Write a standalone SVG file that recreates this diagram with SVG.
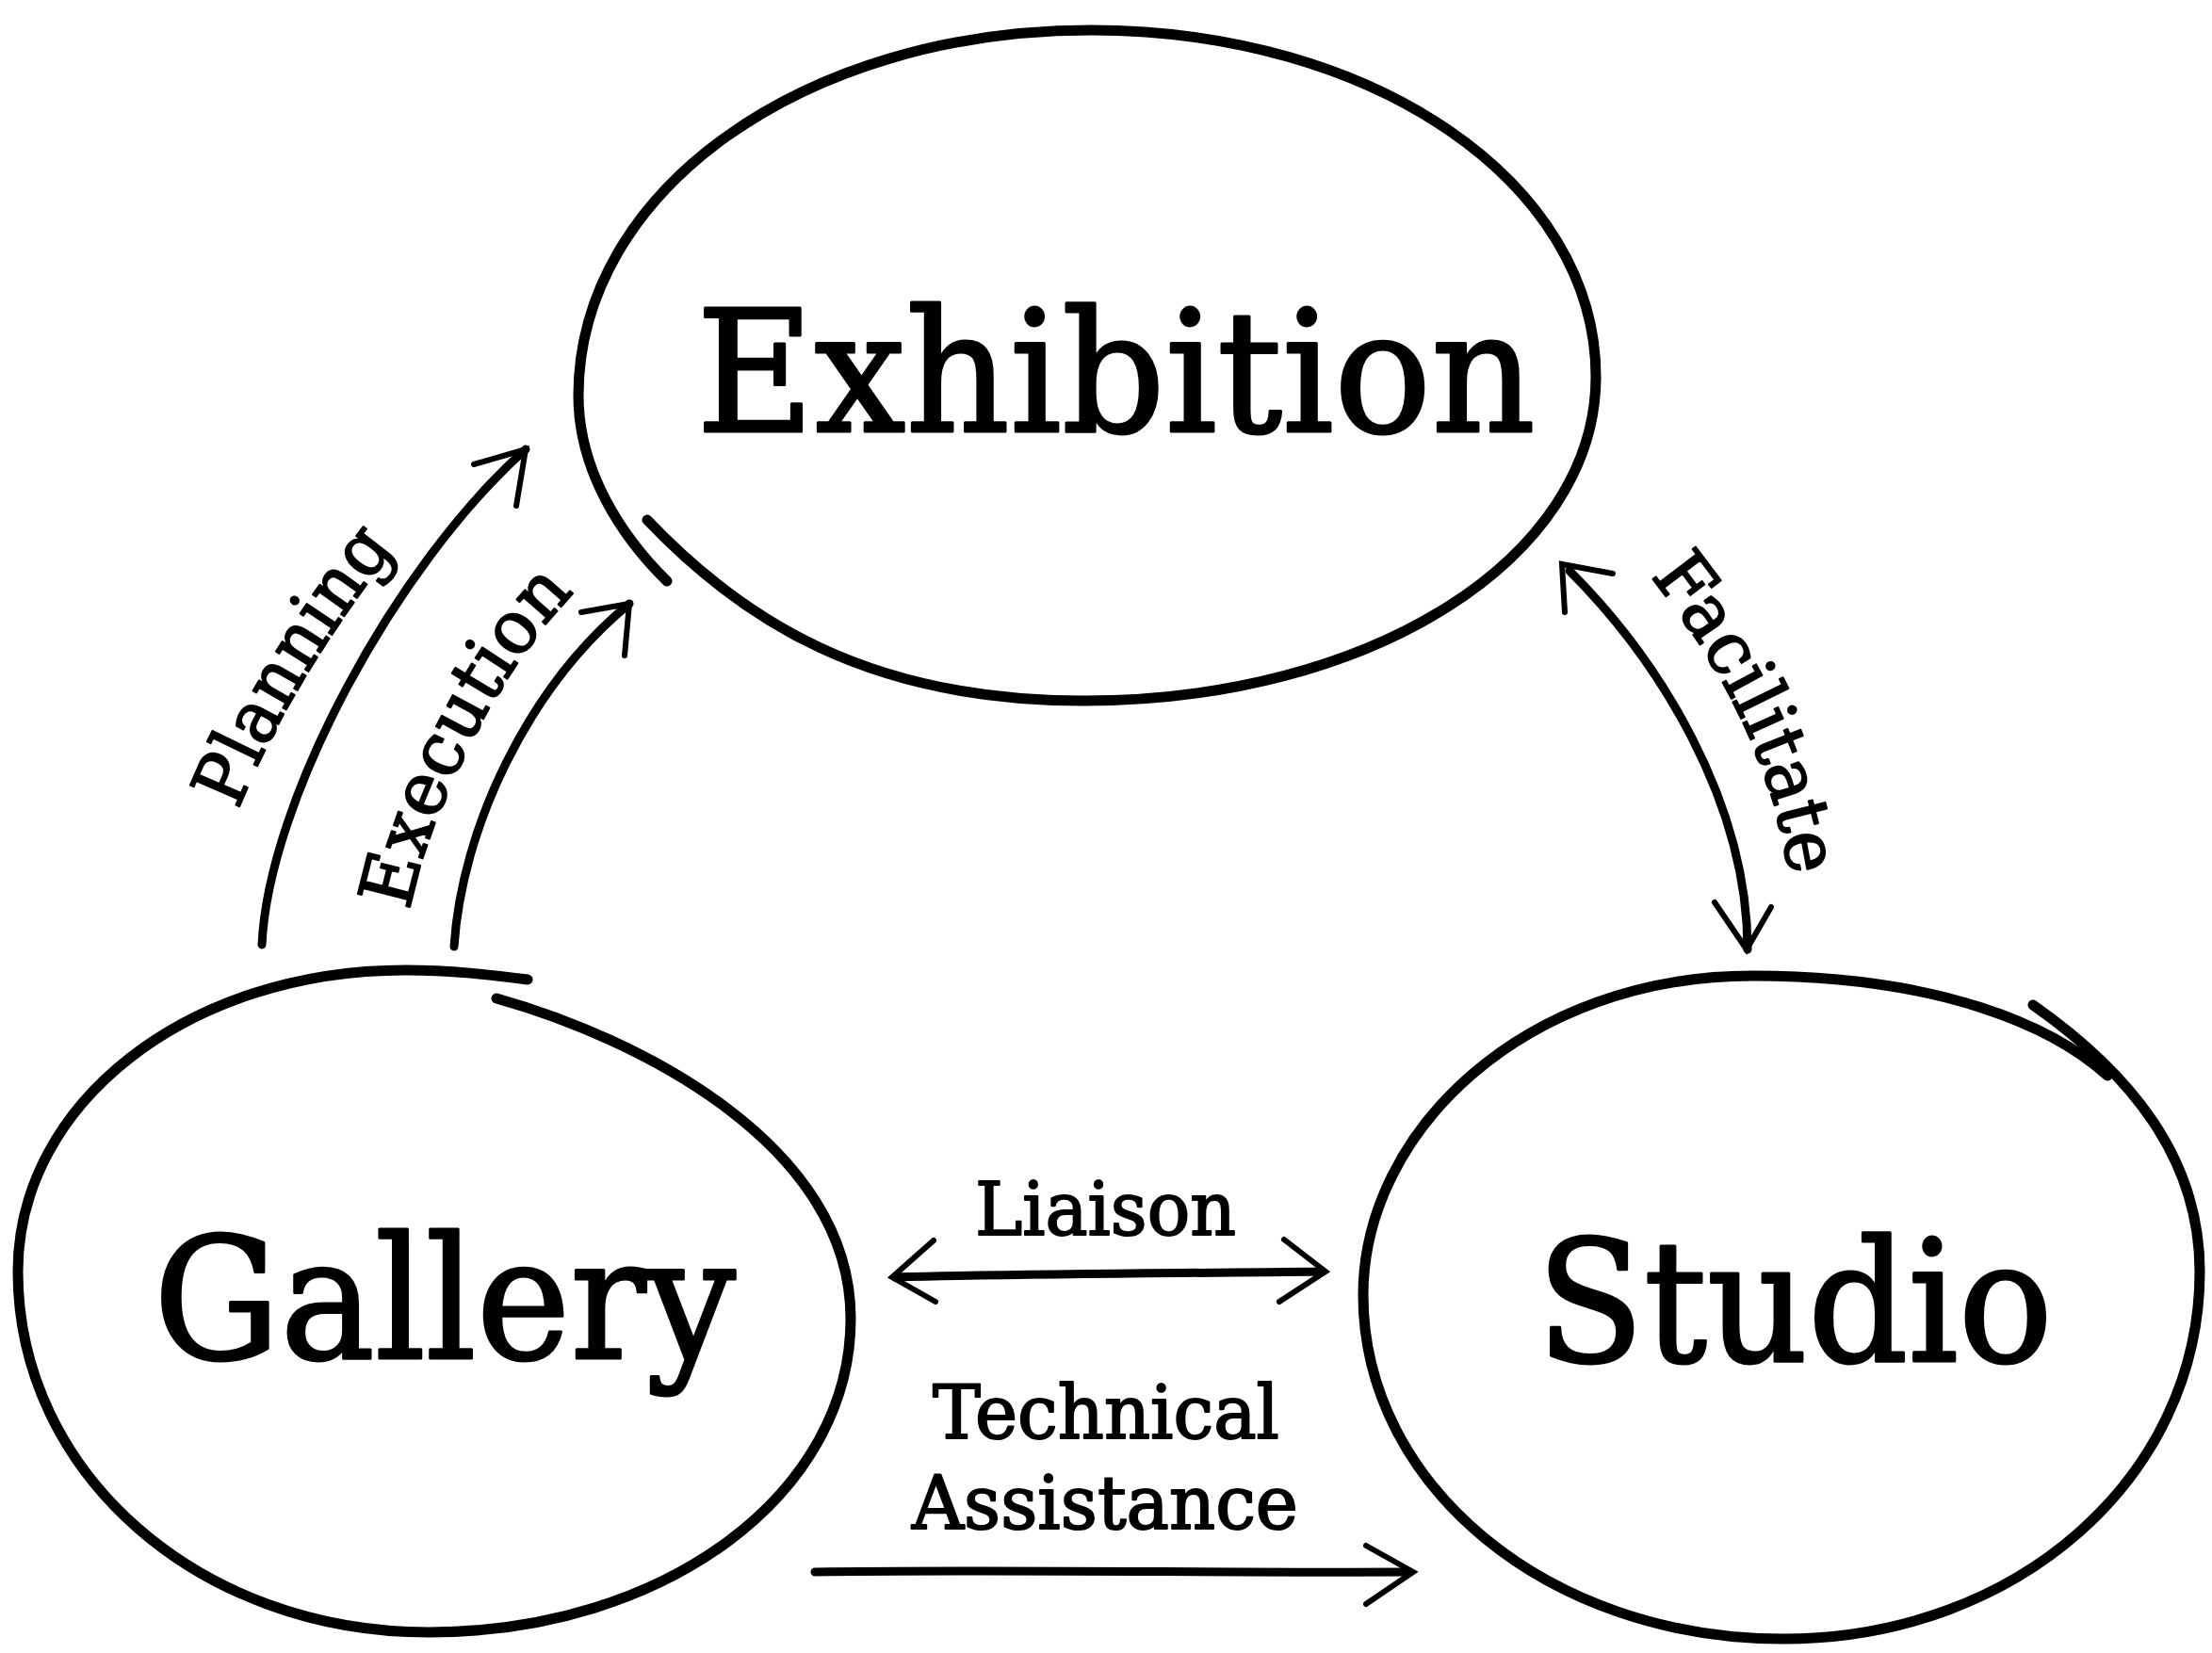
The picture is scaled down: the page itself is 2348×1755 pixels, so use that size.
<svg xmlns="http://www.w3.org/2000/svg" width="2348" height="1755" viewBox="0 0 2348 1755">
<defs>
<style>
.node{fill:none;stroke:#000;stroke-width:11;stroke-linecap:round;stroke-linejoin:round}
.arrow{fill:none;stroke:#000;stroke-width:9;stroke-linecap:round;stroke-linejoin:round}
.head{fill:none;stroke:#000;stroke-width:6;stroke-linecap:round;stroke-linejoin:miter}
.big{font-family:"DejaVu Serif","Liberation Serif",serif;font-size:180px;fill:#000;stroke:#000;stroke-width:3;stroke-linejoin:round}
.lbl{font-family:"DejaVu Serif","Liberation Serif",serif;font-size:78px;fill:#000;stroke:#000;stroke-width:2;stroke-linejoin:round}
</style>
<path id="pPlanning" d="M253,860 C280,790 340,680 421,580"/>
<path id="pExecution" d="M435,967 C450,880 520,720 610,629"/>
<path id="pFacilitate" d="M1752,612 C1810,686 1880,790 1900,935"/>
</defs>
<rect width="2348" height="1755" fill="#fff"/>

<g id="node-exhibition">
<path class="node" d="M687,552 C787,657 920,744 1150,744 C1455,744 1694,593 1694,400 C1694,194 1458,32 1158,32 C853,32 614,203 614,420 C614,500 660,570 708,617"/>
<text class="big" x="739" y="458" textLength="891" lengthAdjust="spacingAndGlyphs">Exhibition</text>
</g>

<g id="node-gallery">
<path class="node" d="M527,1060 C677,1102 903,1215 903,1400 C903,1586 706,1733 455,1733 C211,1733 19,1564 19,1350 C19,1171 200,1030 430,1030 C480,1030 520,1035 560,1040"/>
<text class="big" x="163" y="1442" textLength="618" lengthAdjust="spacingAndGlyphs">Gallery</text>
</g>

<g id="node-studio">
<path class="node" d="M2158,1067 C2262,1140 2335,1230 2335,1350 C2335,1568 2141,1740 1893,1740 C1643,1740 1447,1577 1447,1375 C1447,1200 1620,1036 1860,1036 C2060,1036 2180,1090 2237,1142"/>
<text class="big" x="1631" y="1445" textLength="548" lengthAdjust="spacingAndGlyphs">Studio</text>
</g>

<g id="connectors">
<g id="edge-planning">
<path class="arrow" d="M278,1003 C285,850 420,600 558,477"/>
<path class="head" d="M503,493 L558,477 L548,537"/>
<text class="lbl"><textPath href="#pPlanning" textLength="325" lengthAdjust="spacingAndGlyphs">Planning</textPath></text>
</g>
<g id="edge-execution">
<path class="arrow" d="M482,1005 C490,880 560,730 668,641"/>
<path class="head" d="M617,650 L668,641 L663,696"/>
<text class="lbl"><textPath href="#pExecution" textLength="385" lengthAdjust="spacingAndGlyphs">Execution</textPath></text>
</g>
<g id="edge-facilitate">
<path class="arrow" d="M1666,606 C1760,700 1855,850 1855,1008"/>
<path class="head" d="M1712,609 L1658,599 L1661,650"/>
<path class="head" d="M1820,958 L1854,1008 L1880,963"/>
<text class="lbl"><textPath href="#pFacilitate" textLength="355" lengthAdjust="spacingAndGlyphs">Facilitate</textPath></text>
</g>
<g id="edge-liaison">
<path class="arrow" d="M950,1356 C1100,1352 1250,1352 1404,1350"/>
<path class="head" d="M991,1317 L947,1356 L993,1382"/>
<path class="head" d="M1363,1316 L1407,1350 L1358,1382"/>
<text class="lbl" x="1035" y="1311" textLength="277" lengthAdjust="spacingAndGlyphs">Liaison</text>
</g>
<g id="edge-technical">
<path class="arrow" d="M865,1669 C1050,1666 1300,1670 1496,1669"/>
<path class="head" d="M1450,1641 L1500,1669 L1450,1703"/>
<text class="lbl" x="990" y="1527" textLength="368" lengthAdjust="spacingAndGlyphs">Technical</text>
<text class="lbl" x="968" y="1623" textLength="410" lengthAdjust="spacingAndGlyphs">Assistance</text>
</g>
</g>
</svg>
